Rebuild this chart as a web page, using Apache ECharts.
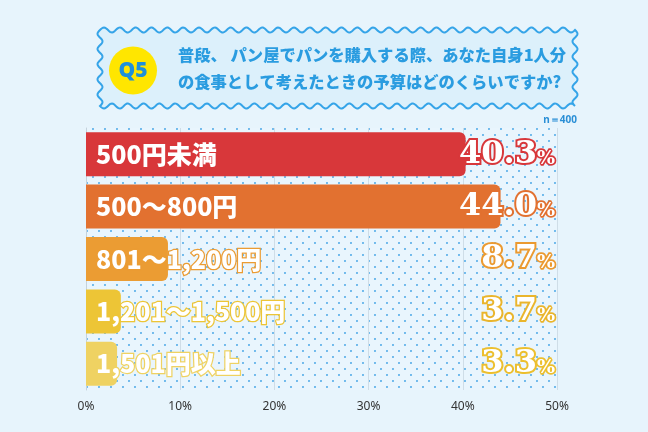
<!DOCTYPE html>
<html><head><meta charset="utf-8">
<script src="https://cdn.jsdelivr.net/npm/echarts@6/dist/echarts.min.js"></script>
<style>html,body{margin:0;padding:0;background:#e7f4fc;}#c{width:648px;height:432px;}</style>
</head><body><div id="c"></div>
<script>
const categories = ['500円未満', '500～800円', '801～1,200円', '1,201～1,500円', '1,501円以上'];
const values = [40.3, 44.0, 8.7, 3.7, 3.3];
const barColors = ['#d8373a', '#e27130', '#eb9c33', '#edc536', '#efd262'];
const valueColors = ['#d8373a', '#e27130', '#eb9a30', '#eab52c', '#ecbf2e'];
const xTicks = [0, 10, 20, 30, 40, 50];
const xMax = 50;
const titleLines = ['普段、 パン屋でパンを購入する際、あなた自身1人分', 'の食事として考えたときの予算はどのくらいですか?'];
const sampleNote = 'n＝400';

// dot pattern
const pc = document.createElement('canvas');
pc.width = 12; pc.height = 12;
const g = pc.getContext('2d');
g.fillStyle = '#e9f5fd'; g.fillRect(0,0,12,12);
g.fillStyle = 'rgba(70,165,230,0.9)';
g.beginPath(); g.arc(3,3,1.05,0,Math.PI*2); g.fill();
g.beginPath(); g.arc(9,9,1.05,0,Math.PI*2); g.fill();

// wavy box polygon
function wavyBox(l, t, r, b, amp, per) {
  const pts = [];
  const nx = Math.round((r - l) / per), px = (r - l) / nx;
  const ny = Math.round((b - t) / per), py = (b - t) / ny;
  for (let x = l; x <= r; x += 1) pts.push([x, t - amp * Math.sin((x - l) / px * 2 * Math.PI)]);
  for (let y = t; y <= b; y += 1) pts.push([r + amp * Math.sin((y - t) / py * 2 * Math.PI), y]);
  for (let x = r; x >= l; x -= 1) pts.push([x, b + amp * Math.sin((x - l) / px * 2 * Math.PI)]);
  for (let y = b; y >= t; y -= 1) pts.push([l - amp * Math.sin((y - t) / py * 2 * Math.PI), y]);
  return pts;
}

const chart = echarts.init(document.getElementById('c'));
const option = {
  backgroundColor: '#e7f4fc',
  animation: false,
  grid: { left: 86, right: 91, top: 128, bottom: 42, show: true, borderWidth: 0,
    backgroundColor: { image: pc, repeat: 'repeat' } },
  xAxis: {
    type: 'value', min: 0, max: xMax, interval: 10,
    axisLine: { show: false }, axisTick: { show: false },
    splitLine: { show: true, lineStyle: { color: '#cfdde7', width: 1 } },
    axisLabel: { formatter: v => xTicks.includes(v) ? v + '%' : '', color: '#333', fontSize: 12, margin: 11, fontFamily: 'Noto Sans' }
  },
  yAxis: {
    type: 'category', data: categories, inverse: true,
    axisLine: { show: true, lineStyle: { color: '#c5d2dc' } },
    axisTick: { show: false }, axisLabel: { show: false }
  },
  series: [
    {
      type: 'bar', barCategoryGap: '16%',
      data: values.map((v, i) => ({ value: v, itemStyle: { color: barColors[i], borderRadius: [0, 6, 6, 0] },
        label: { textBorderColor: barColors[i] } })),
      label: {
        show: true, position: 'insideLeft', distance: 10, formatter: p => categories[p.dataIndex],
        color: '#fff', fontSize: 25, fontWeight: 900, fontFamily: 'Noto Sans CJK JP',
        textBorderWidth: 2.5
      },
      z: 2
    },
    {
      type: 'scatter', symbolSize: 0, itemStyle: { opacity: 1 },
      data: values.map((v, i) => ({ value: [xMax, i],
        label: { rich: {
          n: { fontFamily: 'DejaVu Serif', fontWeight: 'bold', fontSize: 32, color: '#fff', textBorderColor: valueColors[i], textBorderWidth: 4, verticalAlign: 'bottom', opacity: 1 },
          p: { fontFamily: 'DejaVu Serif', fontWeight: 'bold', fontSize: 19, color: '#fff', textBorderColor: valueColors[i], textBorderWidth: 3.5, verticalAlign: 'bottom', padding: [0, 0, 2, 0], opacity: 1 }
        } } })),
      label: { show: true, opacity: 1, position: 'left', distance: 2, formatter: p => '{n|' + values[p.dataIndex].toFixed(1) + '}{p|%}' },
      emphasis: { disabled: true },
      z: 5
    }
  ],
  graphic: [
    { type: 'polygon', shape: { points: wavyBox(100, 30, 575, 106, 2.5, 16) },
      style: { fill: '#dcf0fb', stroke: '#35a4e8', lineWidth: 2 }, z: 1 },
    { type: 'circle', shape: { cx: 133, cy: 70.5, r: 24 }, style: { fill: '#ffe600' }, z: 2 },
    { type: 'text', x: 133, y: 71, style: { text: 'Q5', fill: '#1e90da', font: '900 21px "Noto Sans"', align: 'center', verticalAlign: 'middle' }, z: 3 },
    { type: 'text', x: 178, y: 55, style: { text: titleLines[0], fill: '#2a9ce0', font: '900 16.3px "Noto Sans CJK JP"', verticalAlign: 'middle' }, z: 3 },
    { type: 'text', x: 178, y: 82, style: { text: titleLines[1], fill: '#2a9ce0', font: '900 16.3px "Noto Sans CJK JP"', verticalAlign: 'middle' }, z: 3 },
    { type: 'text', x: 577, y: 120, style: { text: sampleNote, fill: '#2a8fd6', font: 'bold 10px "Noto Sans"', align: 'right', verticalAlign: 'middle' }, z: 3 }
  ]
};
chart.setOption(option);
</script></body></html>
